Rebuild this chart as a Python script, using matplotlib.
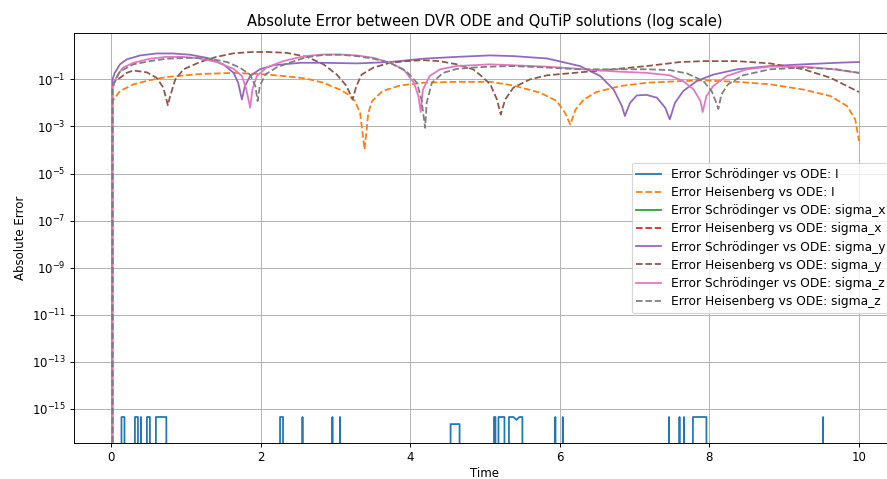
import matplotlib
matplotlib.use("Agg")
import matplotlib.pyplot as plt

# ---------------- data ----------------
# Schrödinger vs ODE: I  (round-off level spikes, zero elsewhere)
schr_I_t = [0.00, 0.12, 0.14, 0.18, 0.20, 0.30, 0.32, 0.36, 0.38, 0.40, 0.42,
            0.46, 0.48, 0.52, 0.54, 0.58, 0.60, 0.74, 0.76,
            2.24, 2.26, 2.30, 2.32, 2.54, 2.56, 2.58, 2.94, 2.96, 2.98,
            3.04, 3.06, 3.08, 4.52, 4.54, 4.66, 4.68,
            5.10, 5.12, 5.14, 5.16, 5.18, 5.26, 5.28, 5.30, 5.32, 5.38, 5.42,
            5.46, 5.50, 5.52, 5.92, 5.94, 5.96, 6.02, 6.04, 6.06,
            7.44, 7.46, 7.48, 7.58, 7.60, 7.62, 7.64, 7.66, 7.68,
            7.76, 7.78, 7.96, 7.98, 9.50, 9.52, 9.54, 10.00]
schr_I_v = [0, 0, 4.44e-16, 4.44e-16, 0, 0, 4.44e-16, 4.44e-16, 0, 4.44e-16, 0,
            0, 4.44e-16, 4.44e-16, 0, 0, 4.44e-16, 4.44e-16, 0,
            0, 4.44e-16, 4.44e-16, 0, 0, 4.44e-16, 0, 0, 4.44e-16, 0,
            0, 4.44e-16, 0, 0, 2.22e-16, 2.22e-16, 0,
            0, 4.44e-16, 4.44e-16, 0, 4.44e-16, 4.44e-16, 0, 0, 4.44e-16, 4.44e-16, 3.33e-16,
            4.44e-16, 4.44e-16, 0, 0, 4.44e-16, 0, 0, 4.44e-16, 0,
            0, 4.44e-16, 0, 0, 4.44e-16, 0, 0, 4.44e-16, 0,
            0, 4.44e-16, 4.44e-16, 0, 0, 4.44e-16, 0, 0]

# Heisenberg vs ODE: I
heis_I_t = [0.00, 0.02, 0.12, 0.30, 0.52, 0.74, 1.19, 1.64, 1.99, 2.30, 2.53,
            2.62, 2.84, 3.06, 3.18, 3.26, 3.33, 3.39, 3.44, 3.49, 3.63, 3.86,
            4.17, 4.61, 5.07, 5.38, 5.74, 5.96, 6.07, 6.14, 6.21, 6.32, 6.49,
            6.80, 7.16, 7.61, 7.92, 8.37, 8.81, 9.26, 9.62, 9.84, 9.95, 10.00]
heis_I_v = [0, 1.2e-2, 3.2e-2, 6.2e-2, 9.3e-2, 0.126, 0.17, 0.19, 0.17, 0.14, 0.117,
            0.107, 7.2e-2, 3.7e-2, 2.2e-2, 1.2e-2, 3.8e-3, 1.05e-4, 3.8e-3, 1.2e-2, 3.2e-2, 5.5e-2,
            7.2e-2, 7.9e-2, 7.9e-2, 5.5e-2, 2.7e-2, 1.2e-2, 3.8e-3, 1.2e-3, 5.2e-3, 1.4e-2, 2.9e-2,
            5.2e-2, 7.2e-2, 8.5e-2, 9.1e-2, 7.9e-2, 6.2e-2, 3.7e-2, 1.95e-2, 7.4e-3, 2.0e-3, 2.4e-4]

# sigma_x errors (zero, not visible on the log axis)
schr_sx_t = [0.00, 10.00]
schr_sx_v = [0, 0]
heis_sx_t = [0.00, 10.00]
heis_sx_v = [0, 0]

# Schrödinger vs ODE: sigma_y
schr_sy_t = [0.00, 0.02, 0.05, 0.12, 0.21, 0.39, 0.61, 0.83, 1.06, 1.28, 1.50,
             1.64, 1.70, 1.75, 1.79, 1.86, 1.99, 2.17, 2.53, 2.84, 3.29, 3.73,
             4.17, 4.62, 5.07, 5.38, 5.83, 6.27, 6.54, 6.72, 6.83, 6.87, 6.94,
             7.03, 7.16, 7.30, 7.41, 7.47, 7.54, 7.65, 7.83, 8.05, 8.37, 8.81,
             9.26, 9.70, 10.00]
schr_sy_v = [0, 0.10, 0.19, 0.44, 0.71, 1.05, 1.27, 1.27, 1.12, 0.83, 0.44,
             0.19, 7.2e-2, 1.4e-2, 5.2e-2, 0.14, 0.27, 0.40, 0.51, 0.51, 0.48, 0.55,
             0.76, 0.91, 1.05, 0.98, 0.78, 0.37, 0.14, 3.7e-2, 7.4e-3, 2.8e-3, 1.02e-2,
             2.1e-2, 2.2e-2, 1.66e-2, 6.2e-3, 2.0e-3, 1.02e-2, 3.2e-2, 8.5e-2, 0.16, 0.27, 0.37,
             0.44, 0.51, 0.55]

# Heisenberg vs ODE: sigma_y
heis_sy_t = [0.00, 0.02, 0.05, 0.12, 0.21, 0.30, 0.48, 0.61, 0.70, 0.76, 0.79,
             0.86, 0.97, 1.19, 1.41, 1.64, 1.86, 2.08, 2.35, 2.62, 2.84, 3.02,
             3.15, 3.23, 3.28, 3.35, 3.51, 3.73, 3.95, 4.17, 4.39, 4.62, 4.84,
             4.93, 5.07, 5.16, 5.21, 5.27, 5.38, 5.60, 5.83, 6.27, 6.72, 7.16,
             7.61, 7.92, 8.37, 8.81, 9.26, 9.62, 10.00]
heis_sy_v = [0, 4.0e-2, 8.5e-2, 0.117, 0.19, 0.24, 0.20, 0.117, 4.5e-2, 8.0e-3, 1.95e-2,
             0.10, 0.27, 0.55, 0.91, 1.29, 1.45, 1.48, 1.35, 0.91, 0.44, 0.16,
             5.2e-2, 1.4e-2, 5.2e-2, 0.16, 0.32, 0.51, 0.60, 0.66, 0.60, 0.44, 0.27,
             0.16, 6.3e-2, 1.4e-2, 3.2e-3, 1.4e-2, 4.5e-2, 0.10, 0.15, 0.20, 0.27, 0.37,
             0.55, 0.60, 0.60, 0.48, 0.27, 0.117, 2.9e-2]

# Schrödinger vs ODE: sigma_z
schr_sz_t = [0.00, 0.02, 0.08, 0.16, 0.30, 0.52, 0.74, 0.97, 1.19, 1.41, 1.64,
             1.75, 1.81, 1.86, 1.89, 1.95, 2.08, 2.30, 2.53, 2.62, 2.84, 3.06,
             3.29, 3.51, 3.73, 3.91, 4.05, 4.11, 4.14, 4.17, 4.26, 4.40, 4.62,
             5.07, 5.38, 5.83, 6.27, 6.72, 7.16, 7.47, 7.65, 7.79, 7.88, 7.91,
             7.96, 8.05, 8.23, 8.50, 8.81, 9.26, 9.62, 10.00]
schr_sz_v = [0, 4.5e-2, 0.14, 0.32, 0.51, 0.76, 0.91, 0.91, 0.78, 0.55, 0.28,
             0.14, 3.7e-2, 6.2e-3, 3.7e-2, 0.14, 0.32, 0.60, 0.89, 1.0, 1.15, 1.15,
             1.05, 0.83, 0.51, 0.27, 7.2e-2, 1.95e-2, 4.1e-3, 3.7e-2, 0.14, 0.27, 0.37,
             0.44, 0.40, 0.35, 0.28, 0.22, 0.19, 0.15, 8.5e-2, 3.7e-2, 1.2e-2, 4.1e-3,
             1.95e-2, 5.2e-2, 0.14, 0.27, 0.35, 0.35, 0.28, 0.19]

# Heisenberg vs ODE: sigma_z
heis_sz_t = [0.00, 0.02, 0.12, 0.30, 0.52, 0.74, 1.06, 1.32, 1.55, 1.72, 1.86,
             1.93, 1.96, 1.99, 2.06, 2.21, 2.39, 2.62, 2.84, 3.06, 3.29, 3.51,
             3.73, 3.95, 4.09, 4.15, 4.20, 4.22, 4.29, 4.44, 4.62, 4.84, 5.07,
             5.38, 5.83, 6.27, 6.72, 7.16, 7.47, 7.70, 7.92, 8.03, 8.10, 8.12,
             8.16, 8.25, 8.45, 8.81, 9.26, 9.70, 10.00]
heis_sz_v = [0, 5.2e-2, 0.22, 0.44, 0.60, 0.76, 0.83, 0.76, 0.55, 0.32, 0.16,
             5.2e-2, 1.2e-2, 5.2e-2, 0.16, 0.32, 0.52, 0.89, 1.10, 1.12, 0.98, 0.76,
             0.51, 0.22, 7.2e-2, 1.4e-2, 8.7e-4, 1.02e-2, 7.2e-2, 0.19, 0.28, 0.32, 0.35,
             0.37, 0.32, 0.27, 0.27, 0.27, 0.25, 0.18, 8.5e-2, 3.2e-2, 8.7e-3, 5.6e-3,
             2.3e-2, 6.2e-2, 0.15, 0.27, 0.32, 0.27, 0.19]

series = [
    ("Error Schrödinger vs ODE: I", schr_I_t, schr_I_v, "-"),
    ("Error Heisenberg vs ODE: I", heis_I_t, heis_I_v, "--"),
    ("Error Schrödinger vs ODE: sigma_x", schr_sx_t, schr_sx_v, "-"),
    ("Error Heisenberg vs ODE: sigma_x", heis_sx_t, heis_sx_v, "--"),
    ("Error Schrödinger vs ODE: sigma_y", schr_sy_t, schr_sy_v, "-"),
    ("Error Heisenberg vs ODE: sigma_y", heis_sy_t, heis_sy_v, "--"),
    ("Error Schrödinger vs ODE: sigma_z", schr_sz_t, schr_sz_v, "-"),
    ("Error Heisenberg vs ODE: sigma_z", heis_sz_t, heis_sz_v, "--"),
]

# ---------------- figure ----------------
DPI = 85
fig = plt.figure(figsize=(887 / DPI, 479 / DPI), dpi=DPI)
ax = fig.add_axes([73.6 / 887, 36.3 / 479, 822.8 / 887, 409.4 / 479])

for label, t, v, ls in series:
    ax.semilogy(t, v, ls, label=label)

ax.set_xlim(-0.5, 10.5)
ax.set_title("Absolute Error between DVR ODE and QuTiP solutions (log scale)",
             fontsize=12.4)
ax.set_xlabel("Time", labelpad=2.5)
ax.set_ylabel("Absolute Error")
ax.grid(True)
ax.legend(loc="center right", fontsize=10.4, labelspacing=0.42)

fig.savefig("out.png", dpi=DPI)
